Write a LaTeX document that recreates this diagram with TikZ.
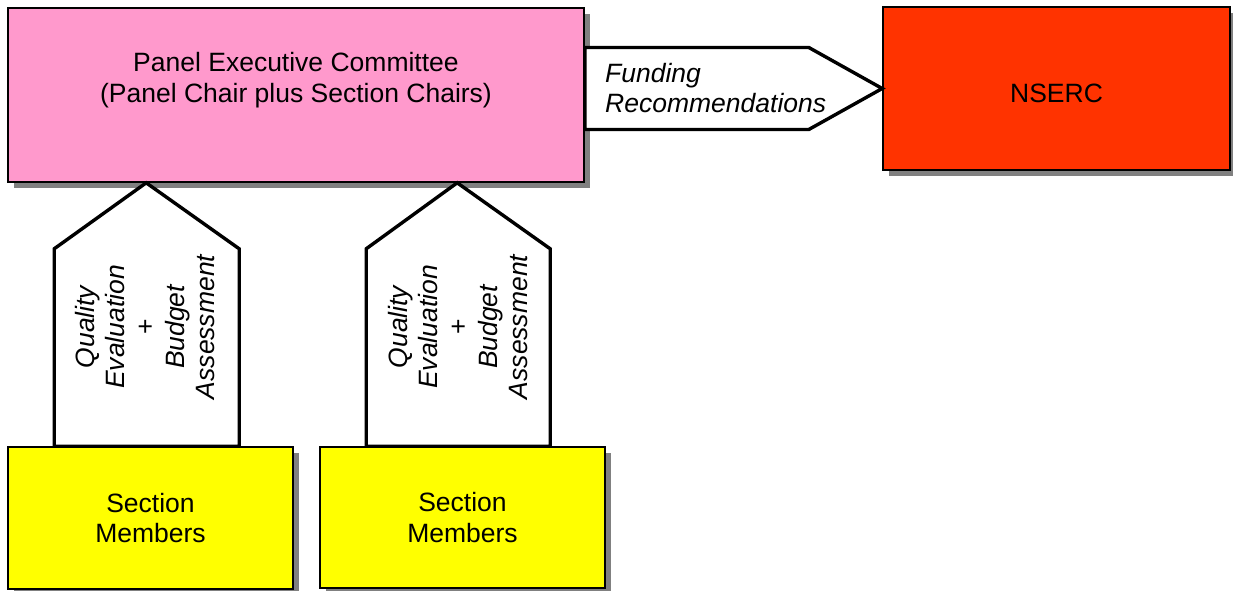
\documentclass[tikz,border=0pt]{standalone}
\usepackage{fontspec}
\setmainfont{Liberation Sans}
\usetikzlibrary{calc,shadows}
\definecolor{pecpink}{HTML}{FF99CC}
\definecolor{nsercred}{HTML}{FF3300}
\definecolor{secyellow}{HTML}{FFFF00}
\definecolor{shadowgray}{HTML}{808080}
\tikzset{
  box/.style={draw=black, line width=1.6pt, rectangle, inner sep=0pt,
    drop shadow={shadow xshift=6pt, shadow yshift=-6pt, fill=shadowgray, opacity=1}},
  txt/.style={font=\fontsize{26.5}{30.5}\selectfont, align=center, inner sep=0pt},
  itxt/.style={font=\fontsize{26.5}{30}\selectfont\itshape, inner sep=0pt},
  flow/.style={draw=black, fill=white, line width=3.4pt, line join=miter},
}
\begin{document}
\begin{tikzpicture}[x=1pt, y=-1pt]
\useasboundingbox (0,0) rectangle (1233,591);

% boxes
\node[box, fill=pecpink, minimum width=576pt, minimum height=174pt] (pec) at (296,95) {};
\node[box, fill=nsercred, minimum width=347pt, minimum height=163pt] (nserc) at (1056.5,88.5) {};
\node[box, fill=secyellow, minimum width=285pt, minimum height=142pt] (sm1) at (150.5,518) {};
\node[box, fill=secyellow, minimum width=285pt, minimum height=141pt] (sm2) at (462.5,517.5) {};

% box texts
\node[txt] (pectext) at (296,80) {Panel Executive Committee\\(Panel Chair plus Section Chairs)};
\node[txt] (nsertext) at (1056.5,93) {NSERC};
\node[txt] (sm1text) at (sm1.center) {Section\\Members};
\node[txt] (sm2text) at (sm2.center) {Section\\Members};

% funding recommendations arrow
\coordinate (fa0) at (pec.east |- nserc.west);
\draw[flow] ($(fa0)+(0,-41)$) -- ($(fa0)+(224,-41)$) -- (nserc.west)
  -- ($(fa0)+(224,41)$) -- ($(fa0)+(0,41)$) -- cycle;
\node[itxt, align=left, anchor=west] (fundtext) at (605,88) {Funding\\Recommendations};

% evaluation arrows from the sections up to the committee
\coordinate (t1) at ($(pec.south west)+(139,0)$);
\coordinate (t2) at ($(pec.south west)+(450,0)$);
\draw[flow] (t1) -- ++(93,66) -- (sm1.north -| {$(t1)+(93,0)$}) -- (sm1.north -| {$(t1)+(-92,0)$}) -- ($(t1)+(-92,66)$) -- cycle;
\draw[flow] (t2) -- ++(93,66) -- (sm2.north -| {$(t2)+(93,0)$}) -- (sm2.north -| {$(t2)+(-91,0)$}) -- ($(t2)+(-91,66)$) -- cycle;
\node[itxt, align=center, rotate=90] (ev1) at (145,327) {Quality\\Evaluation\\{\upshape +}\\Budget\\Assessment};
\node[itxt, align=center, rotate=90] (ev2) at (458,327) {Quality\\Evaluation\\{\upshape +}\\Budget\\Assessment};
\end{tikzpicture}
\end{document}
